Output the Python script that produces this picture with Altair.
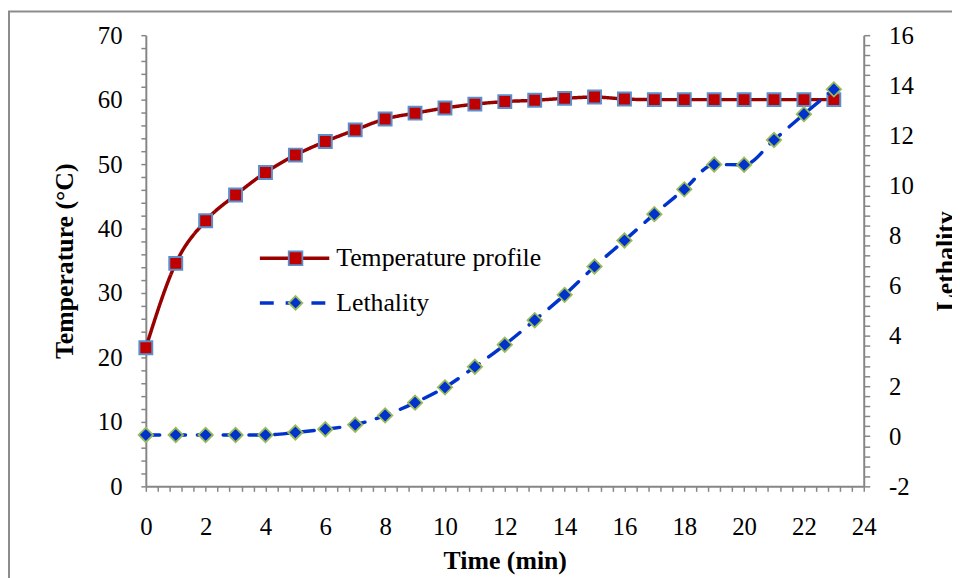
import altair as alt
import pandas as pd

# ---- data ----
time_min = list(range(24))
temperature = [21.5, 34.6, 41.2, 45.2, 48.7, 51.4, 53.5, 55.3, 57.0, 57.9, 58.7, 59.3,
               59.7, 59.9, 60.2, 60.4, 60.1, 60.0, 60.0, 60.0, 60.0, 60.0, 60.0, 60.0]
lethality = [0.05, 0.05, 0.05, 0.05, 0.05, 0.15, 0.28, 0.46, 0.83, 1.34, 1.95, 2.77,
             3.65, 4.63, 5.64, 6.77, 7.81, 8.86, 9.85, 10.84, 10.83, 11.82, 12.85, 13.84]
series_names = ["Temperature profile", "Lethality"]
marker_names = ["Temperature profile marker", "Lethality marker"]

x_ticks = [round(i * 0.4, 1) for i in range(61)]          # 0 .. 24
temp_ticks = [i * 2 for i in range(36)]                    # 0 .. 70
leth_ticks = [round(-2 + i * 0.4, 1) for i in range(46)]   # -2 .. 16

temp_df = pd.DataFrame({"time": time_min, "value": temperature,
                        "series": series_names[0], "series_pt": marker_names[0]})
leth_df = pd.DataFrame({"time": time_min, "value": lethality,
                        "series": series_names[1], "series_pt": marker_names[1]})

FONT = "Liberation Serif"
AXIS_GREY = "#868686"

x_enc = alt.X("time:Q",
              scale=alt.Scale(domain=[0, 24], nice=False),
              axis=alt.Axis(title="Time (min)", values=x_ticks,
                            labelExpr="datum.value % 2 == 0 ? toString(datum.value) : ''",
                            grid=False, tickSize=5, labelPadding=24, titlePadding=8,
                            labelOverlap=False, labelFlush=False, labelBound=False))

# legend line symbol: a horizontal stroke five times the symbol's nominal width
color_enc = alt.Color("series:N", title=None,
                      scale=alt.Scale(domain=series_names, range=["#990000", "#0033CC"]),
                      legend=alt.Legend(orient="none", legendX=137, legendY=212,
                                        symbolType="M-5,0H5", symbolSize=196,
                                        symbolStrokeWidth=3.5, labelFontSize=26,
                                        labelFont=FONT, labelColor="black",
                                        labelOffset=29, rowPadding=19, padding=0,
                                        labelLimit=400))
dash_enc = alt.StrokeDash("series:N", title=None,
                          scale=alt.Scale(domain=series_names, range=[[1, 0], [14, 12]]))

shape_enc = alt.Shape("series_pt:N", title=None,
                      scale=alt.Scale(domain=marker_names, range=["square", "diamond"]),
                      legend=alt.Legend(orient="none", legendX=138, legendY=212,
                                        symbolSize=190, symbolStrokeWidth=1.8,
                                        labelFontSize=26, labelFont=FONT, labelOpacity=0,
                                        labelOffset=29, rowPadding=19, padding=0,
                                        labelLimit=400))
fill_enc = alt.Fill("series_pt:N", title=None,
                    scale=alt.Scale(domain=marker_names, range=["#C00000", "#0033CC"]))
stroke_enc = alt.Stroke("series_pt:N", title=None,
                        scale=alt.Scale(domain=marker_names, range=["#5B8FCB", "#9BBB59"]))

temp_axis = alt.Axis(title="Temperature (°C)", values=temp_ticks,
                     labelExpr="datum.value % 10 == 0 ? toString(datum.value) : ''",
                     grid=False, tickSize=5, labelPadding=19, titlePadding=20,
                     labelOverlap=False, labelBound=False, labelFlush=False, orient="left")
leth_axis = alt.Axis(title="Lethality", values=leth_ticks,
                     labelExpr="abs(datum.value/2 - round(datum.value/2)) < 0.001 ? toString(datum.value) : ''",
                     grid=False, tickSize=6, labelPadding=19, titlePadding=20,
                     titleAngle=270, titleBaseline="top",
                     labelOverlap=False, labelBound=False, labelFlush=False, orient="right")

temp_y = alt.Y("value:Q", scale=alt.Scale(domain=[0, 70], nice=False), axis=temp_axis)
leth_y = alt.Y("value:Q", scale=alt.Scale(domain=[-2, 16], nice=False), axis=leth_axis)

temp_line = alt.Chart(temp_df).mark_line(interpolate="monotone", strokeWidth=3.5).encode(
    x=x_enc, y=temp_y, color=color_enc, strokeDash=dash_enc)
temp_pts = alt.Chart(temp_df).mark_point(filled=True, size=169, strokeWidth=2, opacity=1).encode(
    x=x_enc, y=temp_y, shape=shape_enc, fill=fill_enc, stroke=stroke_enc)
temp_layer = alt.layer(temp_line, temp_pts)

leth_line = alt.Chart(leth_df).mark_line(interpolate="monotone", strokeWidth=3.5,
                                         strokeCap="round").encode(
    x=x_enc, y=leth_y, color=color_enc, strokeDash=dash_enc)
leth_pts = alt.Chart(leth_df).mark_point(filled=True, size=210, strokeWidth=1.8, opacity=1).encode(
    x=x_enc, y=leth_y, shape=shape_enc, fill=fill_enc, stroke=stroke_enc)
leth_layer = alt.layer(leth_line, leth_pts)

frame = alt.Chart(pd.DataFrame({"d": [0]})).mark_rect(filled=False, stroke="#8c8c8c",
                                                        strokeWidth=2).encode(
    x=alt.value(-138), x2=alt.value(1000), y=alt.value(-24), y2=alt.value(1000))

chart = alt.layer(frame, temp_layer, leth_layer).resolve_scale(
    y="independent"
).properties(
    width=724, height=455,
    autosize=alt.AutoSizeParams(type="none"),
    padding={"left": 139, "top": 25, "right": 89, "bottom": 90},
    background="white",
).configure_view(strokeWidth=0).configure_axis(
    domainColor=AXIS_GREY, domainWidth=2, tickColor=AXIS_GREY, tickWidth=1.5,
    labelFont=FONT, labelFontSize=25, labelColor="black",
    titleFont=FONT, titleFontSize=26, titleFontWeight="bold", titleColor="black",
)

chart.save("out.html", embed_options={"renderer": "svg", "actions": False})
